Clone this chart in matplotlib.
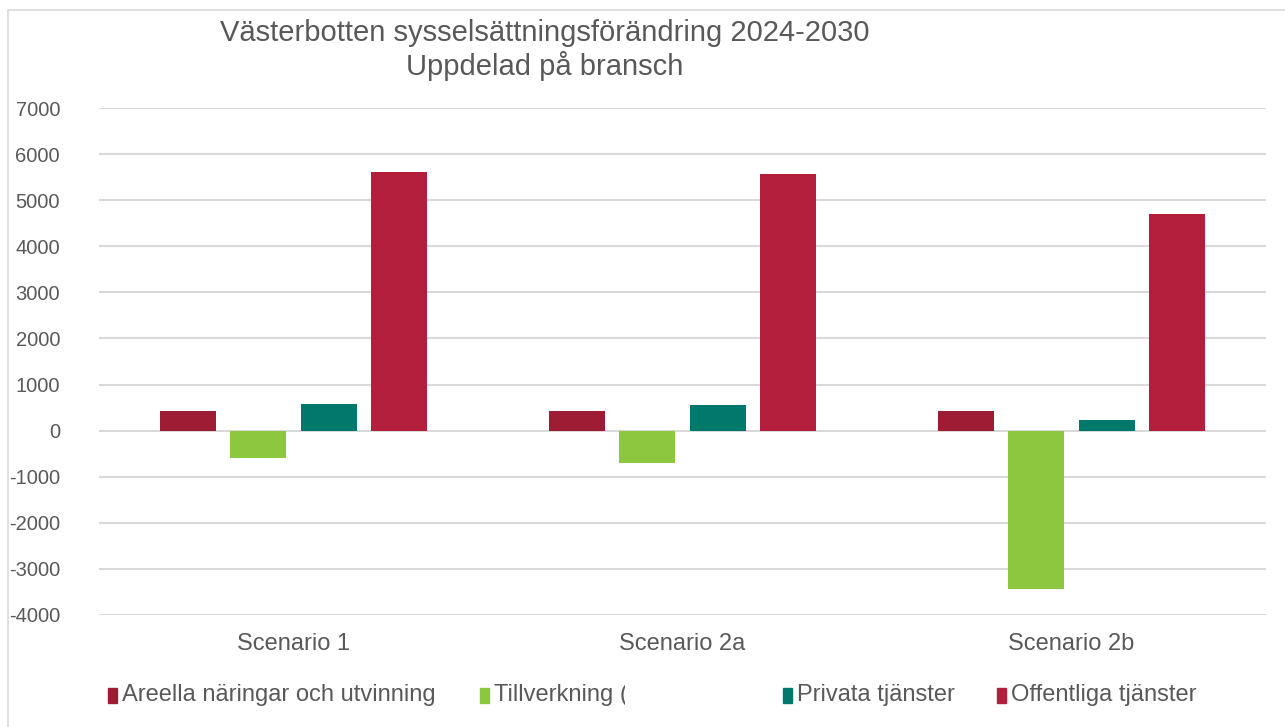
import matplotlib
matplotlib.use("Agg")
import matplotlib.pyplot as plt
from matplotlib import font_manager
from matplotlib.patches import Rectangle
import numpy as np

categories = ["Scenario 1", "Scenario 2a", "Scenario 2b"]
series_names = ["Areella näringar och utvinning", "Tillverkning (", "Privata tjänster", "Offentliga tjänster"]
areella = [430, 430, 420]
tillverkning = [-600, -700, -3430]
privata = [570, 560, 240]
offentliga = [5610, 5570, 4700]
yticks = [7000, 6000, 5000, 4000, 3000, 2000, 1000, 0, -1000, -2000, -3000, -4000]
title_lines = ["Västerbotten sysselsättningsförändring 2024-2030", "Uppdelad på bransch"]

colors = ["#9E1B34", "#8DC63F", "#00786C", "#B21E3C"]
text_color = "#595959"
grid_color = "#D9D9D9"

names = {f.name for f in font_manager.fontManager.ttflist}
fam = ["Liberation Sans Narrow", "Liberation Sans", "DejaVu Sans"]
fam = [f for f in fam if f in names] + ["DejaVu Sans"]
plt.rcParams["font.family"] = fam

W, H = 1285, 727
fig = plt.figure(figsize=(W / 100, H / 100), dpi=100)
ax = fig.add_axes([99 / W, 1 - 615 / H, (1266 - 99) / W, (615 - 108) / H])

data = [areella, tillverkning, privata, offentliga]
x = np.arange(len(categories))
step = 0.181
width = 0.143
for i, (vals, c) in enumerate(zip(data, colors)):
    ax.bar(x + (i - 1.5) * step, vals, width=width, color=c, zorder=3)

ax.set_xlim(-0.5, 2.5)
ax.set_ylim(-4000, 7000)
ax.set_yticks(yticks)
ax.set_yticklabels([str(v) for v in yticks])
ax.set_xticks(x)
ax.set_xticklabels(categories)
for sp in ax.spines.values():
    sp.set_visible(False)
ax.grid(axis="y", color=grid_color, linewidth=1.5, zorder=0)
ax.tick_params(axis="both", length=0, colors=text_color)
ax.tick_params(axis="y", pad=28, labelsize=14.5)
ax.tick_params(axis="x", pad=13, labelsize=17)
for lab in ax.get_yticklabels():
    lab.set_horizontalalignment("right")

fig.text(545 / W, 1 - 33 / H, title_lines[0], ha="center", va="center", fontsize=21, color=text_color)
fig.text(545 / W, 1 - 66 / H, title_lines[1], ha="center", va="center", fontsize=21, color=text_color)

# legend drawn manually
leg_x = [108, 480, 783, 997]
leg_y = 695
for name, c, lx in zip(series_names, colors, leg_x):
    fig.patches.append(Rectangle((lx / W, 1 - (leg_y + 8) / H), 9 / W, 15 / H,
                                 transform=fig.transFigure, color=c))
    t = fig.text((lx + 14) / W, 1 - leg_y / H, name, ha="left", va="center",
                 fontsize=17, color=text_color)
    if name.startswith("Tillverkning"):
        clip = Rectangle((0, 0), 625 / W, 1, transform=fig.transFigure, visible=False)
        fig.patches.append(clip)
        t.set_clip_path(clip)

# chart border
fig.patches.append(Rectangle((8 / W, -0.01), 1.1, 1 - 10 / H + 0.01, transform=fig.transFigure,
                             fill=False, edgecolor=grid_color, linewidth=1.2))

fig.savefig("out.png", dpi=100)
